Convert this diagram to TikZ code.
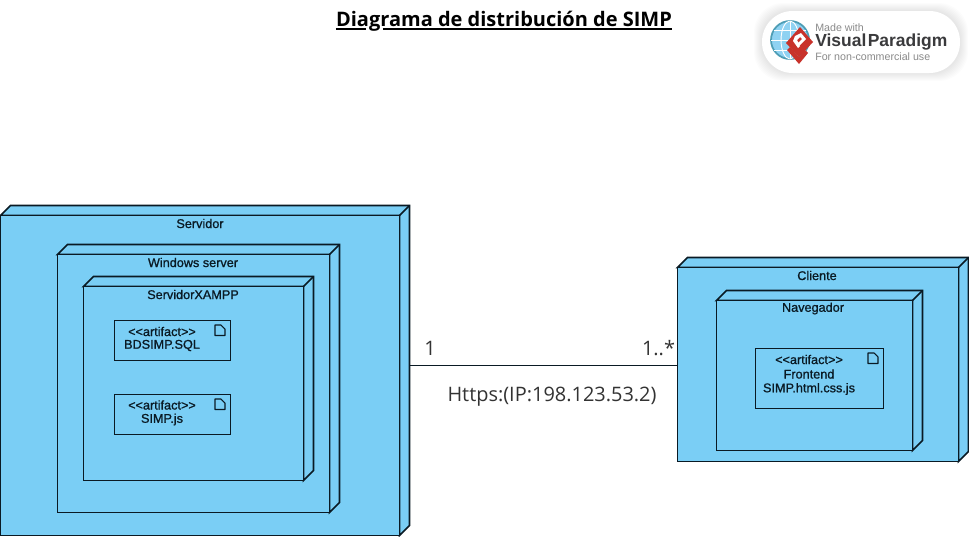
\documentclass[tikz,border=0pt]{standalone}
\usepackage{fontspec}
\setmainfont{Liberation Sans}
\newfontfamily\opensans{Open Sans}
\newfontfamily\lblfont[FakeBold=1]{Liberation Sans}
\usetikzlibrary{calc}
\definecolor{nodeblue}{HTML}{7ACEF5}
\definecolor{inkdark}{HTML}{0A1A24}
\definecolor{vpgrey}{HTML}{8A8A8A}
\definecolor{vpdark}{HTML}{3A3A3C}
\definecolor{vpred}{HTML}{C8322B}
\definecolor{vpsky}{HTML}{8FD2F2}
\definecolor{vpteal}{HTML}{4D9DB5}
\tikzset{
  x=0.75pt,y=-0.75pt,
  edge3d/.style={draw=inkdark,line width=1.2pt,line join=miter,fill=nodeblue},
  depface/.style={edge3d,inner sep=0pt,outer sep=0pt,anchor=north west},
  deplabel/.style={font=\lblfont\fontsize{9.5pt}{11pt}\selectfont,text=inkdark,inner sep=0pt,anchor=center},
  artbox/.style={draw=inkdark,line width=1.1pt,fill=nodeblue,inner sep=0pt,outer sep=0pt,anchor=north west},
  arttext/.style={font=\lblfont\fontsize{9.5pt}{11pt}\selectfont,text=inkdark,inner sep=0pt,anchor=center},
  conn/.style={draw=inkdark,line width=1.2pt},
  connlabel/.style={font=\opensans\fontsize{14.95pt}{17pt}\selectfont,text=black!80,inner sep=0pt,anchor=center},
}
% #1 name, #2 x1, #3 y1, #4 x2, #5 y2 (front face), #6 depth
\newcommand{\depnode}[6]{%
  \path[edge3d] (#2,#3) -- ++(#6,-#6) -- (#4+#6,#3-#6) -- (#4+#6,#5-#6) -- (#4,#5) -- (#4,#3) -- cycle;
  \draw[edge3d,fill=none] (#4,#3) -- (#4+#6,#3-#6);
  \pgfmathsetmacro{\boxw}{(#4-#2)*0.75}\pgfmathsetmacro{\boxh}{(#5-#3)*0.75}
  \node[depface,minimum width=\boxw pt,minimum height=\boxh pt] (#1) at (#2,#3) {};
}
% #1 name, #2 x1, #3 y1, #4 x2, #5 y2
\newcommand{\artnode}[5]{%
  \pgfmathsetmacro{\boxw}{(#4-#2)*0.75}\pgfmathsetmacro{\boxh}{(#5-#3)*0.75}
  \node[artbox,minimum width=\boxw pt,minimum height=\boxh pt] (#1) at (#2,#3) {};
  \draw[draw=inkdark,line width=0.8pt,line join=round,fill=none]
    (#4-15.5,#3+4.5) -- (#4-9.5,#3+4.5) -- (#4-5.5,#3+8.5) -- (#4-5.5,#3+15) -- (#4-15.5,#3+15) -- cycle;
}
\begin{document}
\begin{tikzpicture}
\useasboundingbox[fill=white] (0,0) rectangle (969,536);
% title
\node[inner sep=0pt,font=\opensans\bfseries\fontsize{15pt}{17pt}\selectfont] (title) at (504,21.5) {Diagrama de distribución de SIMP};
\draw[black,line width=1.3pt] (title.west |- 0,28.8) -- (366,28.8) (383,28.8) -- (title.east |- 0,28.8);
% logo badge
\foreach \g in {8,7,6,5,4,3,2,1}{
  \fill[black,opacity=0.012,rounded corners=22pt] (762-\g,11-\g) rectangle (960+\g,73+\g);
}
\fill[white,rounded corners=23pt] (762,11) rectangle (960,73);
\fill[vpsky] (790,40) circle[radius=19];
\draw[vpteal,line width=1.3pt] (790,40) circle[radius=19];
\begin{scope}[white,line width=0.7pt]
  \draw (790,21) -- (790,59);
  \draw (771,40) -- (809,40);
  \draw (774,30) -- (806,30);
  \draw (774,50) -- (806,50);
  \draw (790,40) ellipse[x radius=9,y radius=19];
\end{scope}
\fill[vpred] (787,50) -- (799,64) -- (808,53) -- (805,50) -- (799,57) -- (790,47) -- cycle;
\fill[vpred] (786,43) -- (800,27) -- (813,42) -- (799,57) -- cycle;
\fill[white] (795,36) -- (801,33) -- (806,39) -- (800,45) -- (798,43) -- (802,39) -- (800,37) -- (797,40) -- (800,46) -- (798,48) -- (793,41) -- cycle;
\node[anchor=west,inner sep=0pt,text=vpgrey,font=\fontsize{8pt}{9pt}\selectfont] (vpmade) at (815,27.5) {Made with};
\node[anchor=west,inner sep=0pt,text=vpdark,font=\bfseries\fontsize{13.1pt}{15pt}\selectfont] (vpname) at (815,42.5) {Visual\kern1pt Paradigm};
\node[anchor=west,inner sep=0pt,text=vpgrey,font=\fontsize{8pt}{9pt}\selectfont] (vpuse) at (815,57) {For non-commercial use};
% Servidor
\depnode{servidor}{0.5}{215.5}{399.5}{535.5}{10}
\node[deplabel] (servidorl) at (200,223.5) {Servidor};
\depnode{winserver}{57.5}{254.5}{329.5}{512.5}{10}
\node[deplabel] (winserverl) at (193,262.5) {Windows server};
\depnode{xampp}{83.5}{286.5}{303.5}{480.5}{10}
\node[deplabel] (xamppl) at (193,294.5) {ServidorXAMPP};
\artnode{art1}{114.5}{320.5}{230.5}{360.5}
\node[arttext] (art1a) at (162,331.5) {<{}<artifact>{}>};
\node[arttext] (art1b) at (162,345.5) {BDSIMP.SQL};
\artnode{art2}{114.5}{394.5}{230.5}{434.5}
\node[arttext] (art2a) at (162,405) {<{}<artifact>{}>};
\node[arttext] (art2b) at (162,419.5) {SIMP.js};
% Cliente
\depnode{cliente}{677.5}{267.5}{958.5}{461.5}{10}
\node[deplabel] (clientel) at (817,275.5) {Cliente};
\depnode{navegador}{716.5}{300.5}{912.5}{450.5}{10}
\node[deplabel] (navegadorl) at (813,308.5) {Navegador};
\artnode{art3}{755.5}{348.5}{883.5}{408.5}
\node[arttext] (art3a) at (809,359.5) {<{}<artifact>{}>};
\node[arttext] (art3b) at (809,374) {Frontend};
\node[arttext] (art3c) at (809,389) {SIMP.html.css.js};
% connector
\coordinate (connstart) at ([shift={(10,-10)}]servidor.east);
\draw[conn] (connstart) -- (cliente.west |- connstart);
\node[connlabel] (mult1) at (430,348) {1};
\node[connlabel] (mult2) at (658.5,348) {1..*};
\node[connlabel] (connl) at (552,396.5) {Https:(IP:198.123.53.2)};
\end{tikzpicture}
\end{document}
